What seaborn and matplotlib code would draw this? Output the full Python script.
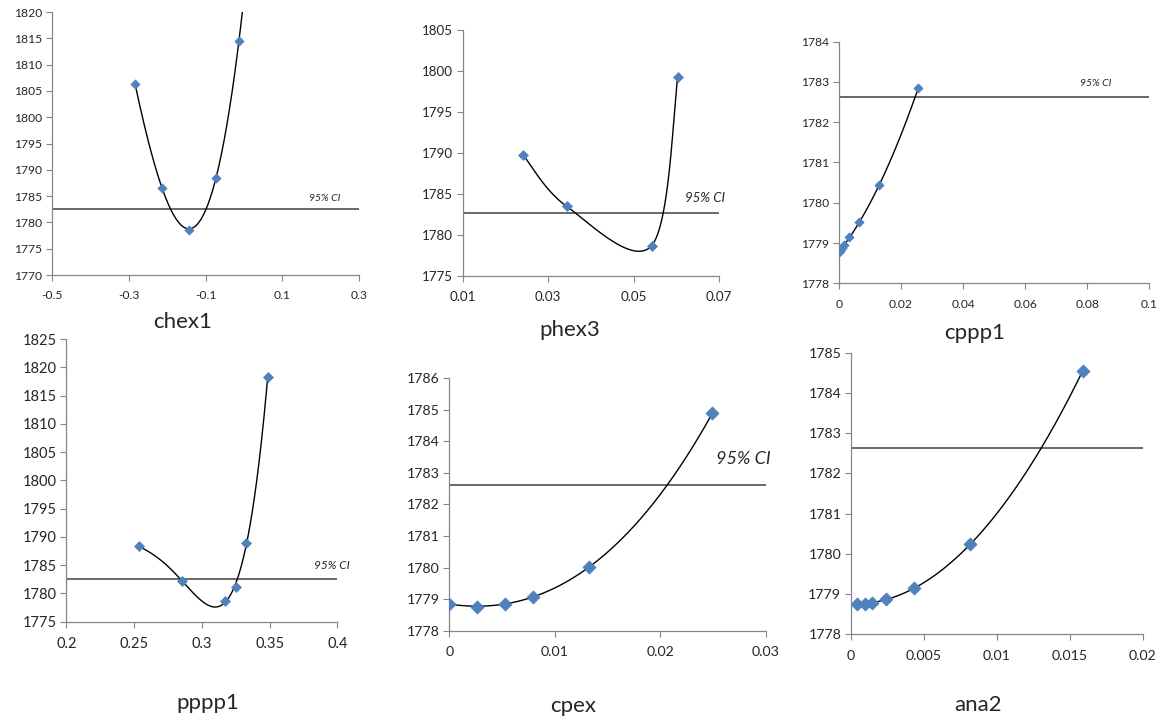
#import libraries
import numpy as np
import pandas as pd
import matplotlib
matplotlib.use("Agg")
import matplotlib.pyplot as plt
import seaborn as sns

#style
sns.set_style("ticks")
plt.rcParams['font.family'] = ['Lato', 'DejaVu Sans']

#data
ci_level = 1782.62

chex1_x = [-0.284, -0.213, -0.143, -0.073, -0.013]
chex1_y = [1806.4, 1786.6, 1778.6, 1788.5, 1814.4]

phex3_x = [0.0242, 0.0343, 0.0542, 0.0603]
phex3_y = [1789.7, 1783.5, 1778.7, 1799.3]

cppp1_x = [0.0, 0.0003, 0.0009, 0.0017, 0.0033, 0.0066, 0.0129, 0.0256]
cppp1_y = [1778.78, 1778.81, 1778.87, 1778.95, 1779.14, 1779.52, 1780.43, 1782.86]

pppp1_x = [0.2534, 0.2854, 0.3171, 0.325, 0.3328, 0.3486]
pppp1_y = [1788.4, 1782.2, 1778.7, 1781.2, 1788.9, 1818.2]

cpex_x = [0.0, 0.00266, 0.00531, 0.00793, 0.01325, 0.02494]
cpex_y = [1778.85, 1778.76, 1778.85, 1779.08, 1780.01, 1784.89]

ana2_x = [0.00043, 0.00094, 0.00142, 0.00238, 0.00432, 0.00818, 0.01589]
ana2_y = [1778.76, 1778.76, 1778.78, 1778.87, 1779.14, 1780.24, 1784.55]

names = ['chex1', 'phex3', 'cppp1', 'pppp1', 'cpex', 'ana2']


#polynomial trendline of the points
def poly_line(x, y, order, x_end=None, n=300):
    coef = np.polyfit(x, y, order)
    if x_end is None:
        x_end = max(x)
    xs = np.linspace(min(x), x_end, n)
    return pd.DataFrame({'x': xs, 'y': np.polyval(coef, xs)})


#spreadsheet style smoothed line (bezier segments through the points)
def bezier_line(x, y, n=60):
    pts = np.column_stack([x, y]).astype(float)
    k = len(pts)
    out = []
    t = np.linspace(0, 1, n)[:, None]
    for i in range(k - 1):
        p0 = pts[max(i - 1, 0)]
        p1 = pts[i]
        p2 = pts[i + 1]
        p3 = pts[min(i + 2, k - 1)]
        c1 = p1 + (p2 - p0) / 6
        c2 = p2 - (p3 - p1) / 6
        seg = ((1 - t) ** 3) * p1 + 3 * ((1 - t) ** 2) * t * c1 + 3 * (1 - t) * t ** 2 * c2 + t ** 3 * p2
        out.append(seg)
    out = np.vstack(out)
    return pd.DataFrame({'x': out[:, 0], 'y': out[:, 1]})


#panel settings: axes rect, limits, ticks, line kind, marker size, fonts, label spot
panels = [
    dict(x=chex1_x, y=chex1_y, rect=[0.0447, 0.6196, 0.2637, 0.3638],
         xlim=(-0.5, 0.3), xt=[-0.5, -0.3, -0.1, 0.1, 0.3], xl=['-0.5', '-0.3', '-0.1', '0.1', '0.3'],
         ylim=(1770, 1820), yt=np.arange(1770, 1821, 5), line=('poly', 3, 0.01),
         ms=22, tick_fs=8.7, ci=(0.211, 1784.6, 7.5), title=(183, 322)),
    dict(x=phex3_x, y=phex3_y, rect=[0.3975, 0.6183, 0.2204, 0.3402],
         xlim=(0.01, 0.07), xt=[0.01, 0.03, 0.05, 0.07], xl=['0.01', '0.03', '0.05', '0.07'],
         ylim=(1775, 1805), yt=np.arange(1775, 1806, 5), line=('smooth',),
         ms=26, tick_fs=9.6, ci=(0.0667, 1784.5, 9.5), title=(570, 330)),
    dict(x=cppp1_x, y=cppp1_y, rect=[0.7208, 0.6082, 0.2666, 0.3342],
         xlim=(0, 0.1), xt=[0, 0.02, 0.04, 0.06, 0.08, 0.1], xl=['0', '0.02', '0.04', '0.06', '0.08', '0.1'],
         ylim=(1778, 1784), yt=np.arange(1778, 1785, 1), line=('poly', 2, 0.0),
         ms=22, tick_fs=8.7, ci=(0.0828, 1782.95, 7.5), title=(975, 333)),
    dict(x=pppp1_x, y=pppp1_y, rect=[0.057, 0.1401, 0.2328, 0.391],
         xlim=(0.2, 0.4), xt=[0.2, 0.25, 0.3, 0.35, 0.4], xl=['0.2', '0.25', '0.3', '0.35', '0.4'],
         ylim=(1775, 1825), yt=np.arange(1775, 1826, 5), line=('poly', 4, 0.0),
         ms=26, tick_fs=10.5, ci=(0.396, 1785.0, 8.5), title=(208, 703)),
    dict(x=cpex_x, y=cpex_y, rect=[0.386, 0.1277, 0.2718, 0.3491],
         xlim=(0, 0.03), xt=[0, 0.01, 0.02, 0.03], xl=['0', '0.01', '0.02', '0.03'],
         ylim=(1778, 1786), yt=np.arange(1778, 1787, 1), line=('poly', 3, 0.0),
         ms=45, tick_fs=10.2, ci=(0.02785, 1783.44, 13), title=(573, 706)),
    dict(x=ana2_x, y=ana2_y, rect=[0.7311, 0.1227, 0.2506, 0.3895],
         xlim=(0, 0.02), xt=[0, 0.005, 0.01, 0.015, 0.02], xl=['0', '0.005', '0.01', '0.015', '0.02'],
         ylim=(1778, 1785), yt=np.arange(1778, 1786, 1), line=('poly', 3, 0.0),
         ms=45, tick_fs=10.2, ci=None, title=(978, 705)),
]

W, H = 1164, 723
fig = plt.figure(figsize=(W / 100, H / 100), dpi=100)

for name, p in zip(names, panels):
    ax = fig.add_axes(p['rect'])
    df = pd.DataFrame({'x': p['x'], 'y': p['y']})

    #curve through the points
    if p['line'][0] == 'poly':
        order, fwd = p['line'][1], p['line'][2]
        curve = poly_line(df['x'], df['y'], order, df['x'].max() + fwd)
    else:
        curve = bezier_line(df['x'], df['y'])
    sns.lineplot(data=curve, x='x', y='y', color='black', linewidth=1.0, ax=ax, zorder=2, sort=False)

    #points
    sns.scatterplot(data=df, x='x', y='y', marker='D', color='#4F81BD', s=p['ms'],
                    edgecolor='#4F81BD', linewidth=0.5, ax=ax, zorder=3)

    #95% CI line
    ax.axhline(ci_level, color='#404040', linewidth=1.1, zorder=1)
    if p['ci'] is not None:
        cx, cy, cfs = p['ci']
        ax.text(cx, cy, '95% CI', style='italic', fontsize=cfs, ha='center', va='center')

    ax.set_xlim(p['xlim'])
    ax.set_ylim(p['ylim'])
    ax.set_xticks(p['xt'])
    ax.set_xticklabels(p['xl'])
    ax.set_yticks(p['yt'])
    ax.set_yticklabels([str(v) for v in p['yt']])
    ax.set_xlabel('')
    ax.set_ylabel('')
    ax.tick_params(labelsize=p['tick_fs'], length=4, width=0.8, color='#868686')
    ax.tick_params(axis='x', pad=7)
    ax.tick_params(axis='y', pad=3)
    for side in ['top', 'right']:
        ax.spines[side].set_visible(False)
    for side in ['left', 'bottom']:
        ax.spines[side].set_color('#868686')
        ax.spines[side].set_linewidth(0.9)
    ax.patch.set_alpha(0)

    #panel name under the plot
    tx, ty = p['title']
    fig.text(tx / W, 1 - ty / H, name, fontsize=16, ha='center', va='center')

fig.savefig('out.png', dpi=100)
